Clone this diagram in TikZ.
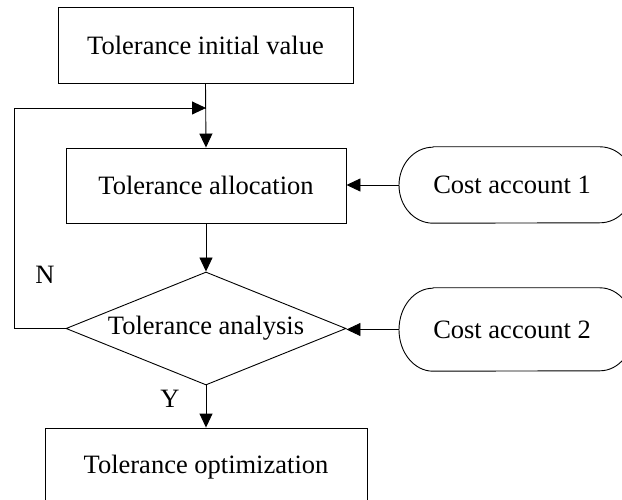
\documentclass[tikz,border=0pt]{standalone}
\usepackage{fontspec}
\setmainfont{Liberation Serif}
\usetikzlibrary{shapes.geometric,arrows.meta}
\begin{document}
\begin{tikzpicture}[x=1pt,y=1pt,
  every node/.style={font=\fontsize{26.5}{30}\selectfont},
  box/.style={draw,line width=0.9pt,inner sep=0pt},
  dia/.style={draw,line width=0.9pt,shape=diamond,aspect=2.48,inner sep=0pt,minimum width=280pt,minimum height=113pt},
  term/.style={inner sep=0pt,minimum width=226pt},
  conn/.style={line width=0.9pt},
  arr/.style={conn,-{Triangle[length=14pt,width=13pt]}}]
\useasboundingbox (0,0) rectangle (622,499);
\clip (0,0) rectangle (622,499);
\node[box,minimum width=295pt,minimum height=76pt] (b1) at (205.5,454) {Tolerance initial value};
\node[box,minimum width=280pt,minimum height=75pt] (b2) at (206,313.5) {Tolerance allocation};
\node[dia] (d) at (206,170.5) {Tolerance analysis};
\node[box,minimum width=322pt,minimum height=78pt] (b3) at (206,32) {Tolerance optimization};
\node[term,minimum height=76pt] (c1) at (512,314) {Cost account 1};
\node[term,minimum height=83pt] (c2) at (512,169.5) {Cost account 2};
\draw[line width=0.9pt] ([xshift=-79pt]c1.north) -- ([xshift=88pt]c1.north)
  arc[start angle=90,end angle=-90,x radius=34pt,y radius=38pt]
  -- ([xshift=-79pt]c1.south)
  arc[start angle=270,end angle=90,x radius=34pt,y radius=38pt] -- cycle;
\draw[line width=0.9pt] ([xshift=-79pt]c2.north) -- ([xshift=88pt]c2.north)
  arc[start angle=90,end angle=-90,x radius=34pt,y radius=41.5pt]
  -- ([xshift=-79pt]c2.south)
  arc[start angle=270,end angle=90,x radius=34pt,y radius=41.5pt] -- cycle;
\coordinate (j) at (206,391);
\coordinate (fl) at (14,391);
\draw[arr] (b1.south) -- (b2.north);
\draw[arr] (b2.south) -- (d.north);
\draw[arr] (d.south) -- (b3.north);
\draw[arr] (d.west) -| (fl) -- (j);
\draw[arr] (c1.west) -- (c1.west -| b2.east);
\draw[arr] (c2.west) -- (c2.west -| d.east);
\node (n) at (45,224) {N};
\node (y) at (170,100) {Y};
\end{tikzpicture}
\end{document}
